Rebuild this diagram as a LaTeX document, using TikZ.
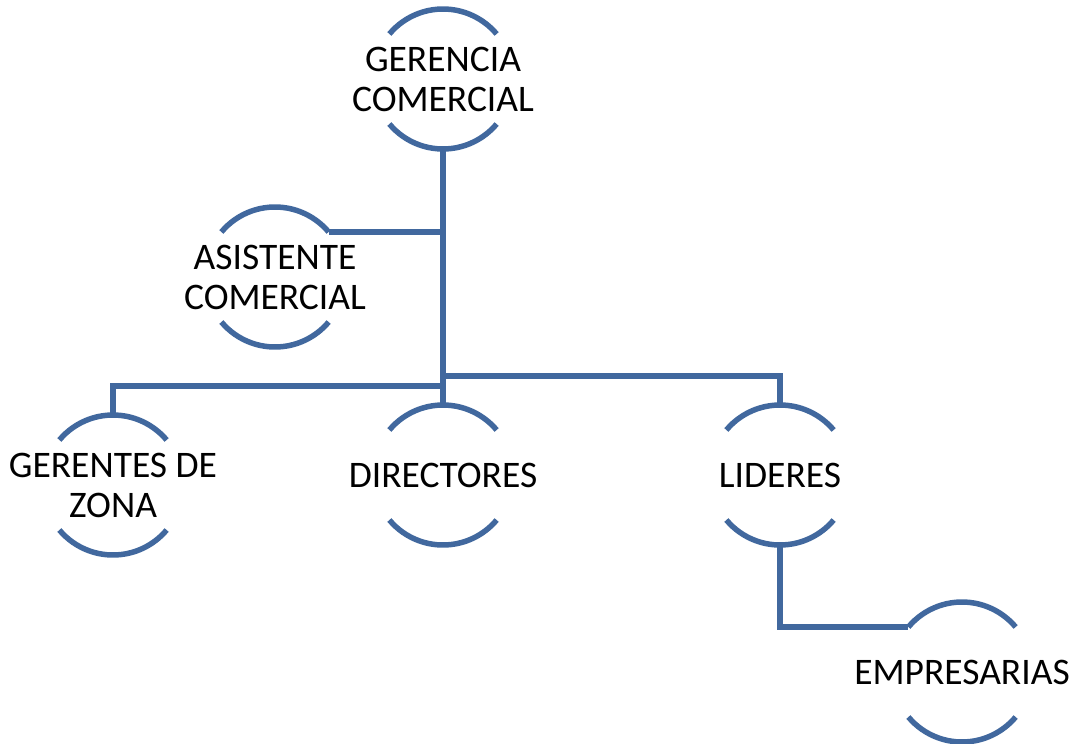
\documentclass[tikz,border=0pt]{standalone}
\usepackage{fontspec}
\setmainfont{Carlito}
\usetikzlibrary{positioning,calc}
\definecolor{orgline}{HTML}{41689E}

\begin{document}
\begin{tikzpicture}[x=1pt,y=1pt,
	unit/.style={circle,minimum size=140pt,inner sep=0pt,outer sep=0pt},
	unittext/.style={align=center,inner sep=0pt,font=\fontsize{37.5}{40}\selectfont},
	link/.style={line width=5.5pt,draw=orgline}]
\useasboundingbox (0,0) rectangle (1076,-744);

\node[unit,label={[unittext]center:GERENCIA\\COMERCIAL}](ger) at (443,-79) {};
\node[unit,label={[unittext]center:ASISTENTE\\COMERCIAL}](asi) at (275,-277) {};
\node[unit,label={[unittext]center:GERENTES DE\\ZONA}](zon) at (113,-485) {};
\node[unit,label={[unittext]center:DIRECTORES}](dir) at (443,-475) {};
\node[unit,label={[unittext]center:LIDERES}](lid) at (780,-475) {};
\node[unit,label={[unittext]center:EMPRESARIAS}](emp) at (962,-672) {};
\coordinate (lj) at (443,-386);
\coordinate (rj) at (443,-376);

\foreach \x in {ger,asi,zon,dir,lid,emp}{
		\draw[link](\x.140) arc[start angle=140,end angle=40,radius=70];
		\draw[link](\x.220) arc[start angle=220,end angle=320,radius=70];
}

\draw[link](ger.south)--(dir.north);
\draw[link](asi.40)--(asi.40-|ger.south);
\foreach \x/\y in {zon/lj,lid/rj}
	\draw[link](\x.north)|-(\y);
\draw[link](lid.south)|-(emp.140);

\end{tikzpicture}
\end{document}
